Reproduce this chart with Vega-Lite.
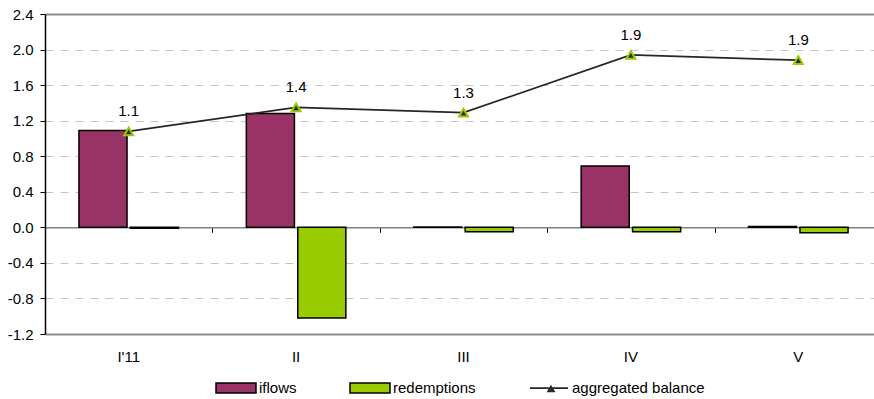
{
  "$schema": "https://vega.github.io/schema/vega-lite/v6.json",
  "width": 822,
  "height": 320,
  "autosize": {"type": "none"},
  "padding": {"left": 45, "top": 14, "right": 7, "bottom": 65},
  "background": "white",
  "config": {
    "view": {"stroke": null},
    "font": "Liberation Sans",
    "locale": {
      "number": {"decimal": ".", "thousands": ",", "grouping": [3], "currency": ["$", ""], "minus": "-"}
    },
    "legend": {
      "orient": "none",
      "labelFont": "Liberation Sans",
      "labelFontSize": 15,
      "labelColor": "#000000",
      "padding": 0,
      "symbolOpacity": 1
    }
  },
  "datasets": {
    "flows": [
      {"period": "I'11", "series": "iflows", "value": 1.09},
      {"period": "I'11", "series": "redemptions", "value": -0.01},
      {"period": "II", "series": "iflows", "value": 1.28},
      {"period": "II", "series": "redemptions", "value": -1.02},
      {"period": "III", "series": "iflows", "value": 0.005},
      {"period": "III", "series": "redemptions", "value": -0.05},
      {"period": "IV", "series": "iflows", "value": 0.69},
      {"period": "IV", "series": "redemptions", "value": -0.05},
      {"period": "V", "series": "iflows", "value": 0.01},
      {"period": "V", "series": "redemptions", "value": -0.06}
    ],
    "balance": [
      {"period": "I'11", "balance": 1.08},
      {"period": "II", "balance": 1.35},
      {"period": "III", "balance": 1.29},
      {"period": "IV", "balance": 1.94},
      {"period": "V", "balance": 1.88}
    ]
  },
  "layer": [
    {
      "data": {"name": "flows"},
      "mark": {"type": "bar", "stroke": "#000000", "strokeWidth": 1.5},
      "encoding": {
        "x": {
          "field": "period",
          "type": "ordinal",
          "scale": {
            "domain": ["I'11", "II", "III", "IV", "V"],
            "range": [0, 837],
            "paddingInner": 0,
            "paddingOuter": 0
          },
          "axis": {
            "orient": "bottom",
            "title": null,
            "domain": false,
            "ticks": false,
            "grid": false,
            "labelAngle": 0,
            "labelPadding": 15,
            "labelFontSize": 15,
            "labelColor": "#000000"
          }
        },
        "xOffset": {
          "field": "series",
          "type": "nominal",
          "sort": ["iflows", "redemptions"],
          "scale": {"paddingInner": 0.065, "paddingOuter": 0.66}
        },
        "y": {
          "field": "value",
          "type": "quantitative",
          "scale": {"domain": [-1.2, 2.4], "nice": false, "zero": false},
          "axis": {
            "title": null,
            "values": [-1.2, -0.8, -0.4, 0, 0.4, 0.8, 1.2, 1.6, 2.0, 2.4],
            "format": ".1f",
            "labelOverlap": false,
            "domain": true,
            "domainColor": "#000000",
            "domainWidth": 1.5,
            "ticks": true,
            "tickSize": 5,
            "tickColor": "#000000",
            "tickWidth": 1,
            "labelPadding": 7,
            "labelFontSize": 15,
            "labelColor": "#000000",
            "grid": true,
            "gridColor": {
              "condition": {"test": "abs(datum.value - 2.4) < 0.01 || abs(datum.value + 1.2) < 0.01", "value": "#8c8c8c"},
              "value": "#c4c4c4"
            },
            "gridDash": {
              "condition": {"test": "abs(datum.value - 2.4) < 0.01 || abs(datum.value + 1.2) < 0.01", "value": []},
              "value": [8, 7]
            },
            "gridWidth": {
              "condition": {"test": "abs(datum.value - 2.4) < 0.01 || abs(datum.value + 1.2) < 0.01", "value": 2},
              "value": 1
            }
          }
        },
        "fill": {
          "field": "series",
          "type": "nominal",
          "scale": {"domain": ["iflows", "redemptions"], "range": ["#993366", "#99CC00"]},
          "legend": {
            "title": null,
            "direction": "horizontal",
            "legendX": 180,
            "legendY": 363,
            "symbolType": "M-2,-0.5H2V0.5H-2Z",
            "symbolSize": 400,
            "symbolStrokeColor": "#000000",
            "symbolStrokeWidth": 1.5,
            "labelOffset": 12,
            "columnPadding": 50
          }
        }
      }
    },
    {
      "data": {"name": "balance"},
      "mark": {"type": "line", "strokeWidth": 1.75},
      "encoding": {
        "x": {
          "field": "period",
          "type": "ordinal",
          "axis": {
            "orient": "top",
            "offset": -213.33,
            "title": null,
            "labels": false,
            "grid": false,
            "domainColor": "#808080",
            "domainWidth": 1.5,
            "tickBand": "extent",
            "tickSize": -5,
            "tickColor": "#000000",
            "tickWidth": 1,
            "zindex": 0
          }
        },
        "y": {"field": "balance", "type": "quantitative", "axis": null},
        "stroke": {
          "datum": "aggregated balance",
          "type": "nominal",
          "scale": {"range": ["#262626"]},
          "legend": {
            "title": null,
            "legendX": 493,
            "legendY": 363,
            "symbolType": "M-1.9,0H1.9",
            "symbolSize": 400,
            "symbolStrokeWidth": 1.75,
            "labelOffset": 12
          }
        }
      }
    },
    {
      "data": {"name": "balance"},
      "mark": {
        "type": "point",
        "filled": true,
        "size": 80,
        "fill": "#2b2b2b",
        "stroke": "#99CC00",
        "strokeWidth": 2,
        "opacity": 1
      },
      "encoding": {
        "x": {"field": "period", "type": "ordinal", "axis": null},
        "y": {"field": "balance", "type": "quantitative", "axis": null},
        "shape": {
          "datum": "marker",
          "type": "nominal",
          "scale": {"range": ["triangle-up"]},
          "legend": {
            "title": null,
            "legendX": 498.5,
            "legendY": 367,
            "symbolSize": 80,
            "symbolFillColor": "#2b2b2b",
            "symbolStrokeColor": "#99CC00",
            "symbolStrokeWidth": 2,
            "labelExpr": "''"
          }
        }
      }
    },
    {
      "data": {"name": "balance"},
      "mark": {
        "type": "text",
        "dy": -15,
        "baseline": "alphabetic",
        "fontSize": 15,
        "color": "#000000"
      },
      "encoding": {
        "x": {"field": "period", "type": "ordinal", "axis": null},
        "y": {"field": "balance", "type": "quantitative", "axis": null},
        "text": {"field": "balance", "type": "quantitative", "format": ".1f"}
      }
    }
  ],
  "resolve": {"axis": {"x": "independent", "y": "independent"}}
}
